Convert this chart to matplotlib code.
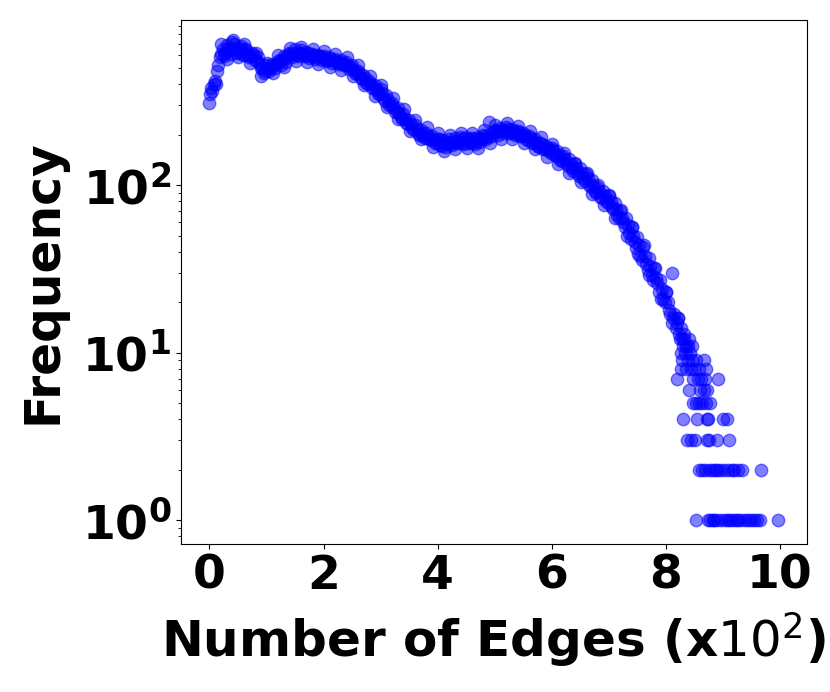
import matplotlib
matplotlib.use("Agg")
import matplotlib.pyplot as plt
import numpy as np

# main body: number of edges and frequency
body_edges = list(range(0, 835, 5))
body_freq = [
    310, 365, 420, 520, 610, 590, 690, 640, 720, 660,
    630, 680, 600, 650, 585, 620, 560, 580, 505, 470,
    520, 480, 530, 500, 550, 525, 590, 545, 620, 580,
    650, 590, 640, 600, 625, 575, 610, 570, 600, 560,
    590, 555, 580, 540, 570, 530, 560, 520, 545, 495,
    520, 470, 480, 440, 455, 410, 420, 380, 395, 355,
    375, 330, 345, 300, 310, 275, 290, 255, 265, 235,
    245, 220, 228, 205, 215, 196, 205, 188, 198, 180,
    190, 175, 186, 170, 188, 175, 192, 178, 195, 176,
    194, 180, 192, 176, 195, 182, 200, 188, 240, 196,
    215, 200, 220, 205, 222, 204, 218, 200, 212, 196,
    205, 188, 198, 180, 190, 172, 180, 165, 172, 160,
    168, 152, 160, 142, 150, 135, 143, 126, 134, 118,
    126, 110, 117, 100, 108, 92, 98, 85, 92, 80,
    86, 74, 78, 66, 70, 60, 64, 52, 56, 46,
    49, 38, 43, 34, 37, 29, 32, 26, 27, 21,
    23, 18, 30, 17, 15, 12, 11,
]

body2_edges = list(range(3, 830, 5))
body2_freq = [
    380, 400, 480, 580, 650, 620, 660, 610, 700, 620,
    660, 610, 640, 600, 590, 600, 550, 530, 500, 480,
    500, 500, 520, 530, 560, 560, 575, 600, 610, 620,
    600, 620, 610, 590, 620, 590, 600, 580, 590, 580,
    570, 560, 565, 555, 545, 545, 535, 530, 515, 510,
    490, 465, 470, 430, 440, 400, 400, 380, 370, 350,
    355, 320, 325, 300, 290, 275, 270, 250, 250, 232,
    232, 215, 218, 200, 205, 192, 198, 186, 190, 178,
    188, 172, 182, 176, 182, 180, 184, 182, 188, 180,
    190, 180, 188, 182, 190, 188, 196, 195, 205, 208,
    210, 212, 215, 210, 218, 208, 212, 202, 208, 196,
    200, 186, 192, 180, 182, 170, 176, 164, 168, 155,
    162, 150, 152, 140, 144, 130, 134, 122, 126, 114,
    118, 106, 110, 98, 100, 90, 92, 84, 86, 78,
    80, 72, 72, 64, 64, 56, 58, 48, 50, 42,
    44, 36, 38, 31, 33, 27, 28, 23, 24, 20,
    20, 17, 16, 14, 13, 12,
]

body3_edges = list(range(1, 830, 10))
body3_freq = [
    350, 400, 700, 570, 740, 580, 700, 540, 620, 450,
    540, 470, 600, 510, 660, 550, 670, 545, 650, 530,
    630, 510, 610, 490, 580, 450, 520, 395, 450, 340,
    395, 295, 330, 250, 285, 212, 245, 188, 222, 170,
    205, 160, 200, 165, 205, 166, 205, 168, 215, 180,
    230, 188, 235, 188, 225, 178, 210, 165, 195, 148,
    176, 134, 156, 118, 136, 104, 119, 89, 101, 76,
    87, 64, 71, 50, 56, 39, 44, 29, 32, 21,
    23, 15, 16,
]

# tail: sparse counts at large edge numbers
tail_edges = [822, 826, 831, 835, 840, 845,
              832, 838, 843,
              826, 834,
              828, 838, 845, 852, 866,
              826, 836, 844, 850, 858, 870,
              820, 848, 856, 862, 869, 891,
              841, 860, 866, 872,
              847, 852, 858, 864, 870, 877,
              830, 855, 872, 874, 900, 907,
              837, 844, 851, 872, 876, 890, 911,
              858, 863, 868, 875, 880, 886, 890, 895, 902, 908, 915, 920, 926, 933, 967,
              853, 874, 878, 882, 885, 890, 896, 903, 908, 912, 918, 922, 927, 932,
              938, 944, 950, 955, 960, 965, 997]
tail_freq = [16, 14, 13, 11, 12, 11,
             12, 11, 10,
             10, 10,
             9, 9, 9, 9, 9,
             8, 8, 8, 8, 8, 8,
             7, 7, 7, 7, 7, 7,
             6, 6, 6, 6,
             5, 5, 5, 5, 5, 5,
             4, 4, 4, 4, 4, 4,
             3, 3, 3, 3, 3, 3, 3,
             2, 2, 2, 2, 2, 2, 2, 2, 2, 2, 2, 2, 2, 2, 2,
             1, 1, 1, 1, 1, 1, 1, 1, 1, 1, 1, 1, 1, 1,
             1, 1, 1, 1, 1, 1, 1]

edges = np.array(body_edges + body2_edges + body3_edges + tail_edges) / 100.0
freq = np.array(body_freq + body2_freq + body3_freq + tail_freq)

fig = plt.figure(figsize=(8.3, 6.92), dpi=100)
ax = fig.add_axes([0.218, 0.214, 0.754, 0.757])

ax.scatter(edges, freq, s=80, color="blue", alpha=0.5)
ax.set_yscale("log")
ax.set_ylim(0.72, 970)

ax.set_xticks([0, 2, 4, 6, 8, 10])
ax.tick_params(axis="both", labelsize=34)
for lab in ax.get_xticklabels() + ax.get_yticklabels():
    lab.set_fontweight("bold")

ax.set_xlabel("Number of Edges (x$10^2$)", fontsize=36, fontweight="bold", labelpad=8)
ax.set_ylabel("Frequency", fontsize=35, fontweight="bold", labelpad=11)

fig.savefig("out.png", dpi=100)
